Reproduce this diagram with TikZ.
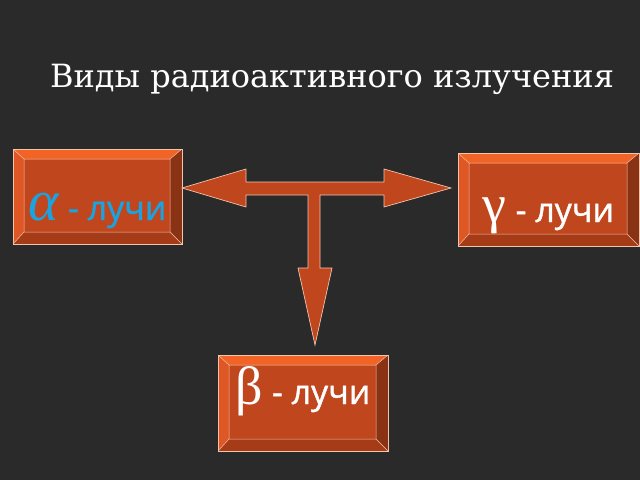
\documentclass[tikz,border=0pt]{standalone}
\usepackage{fontspec}
\setmainfont{DejaVu Serif}
\newfontfamily\labelfont[FakeBold=1.2]{Open Sans}
\newfontfamily\greekfont{Liberation Serif}
\definecolor{slate}{HTML}{2A2A2A}
\definecolor{face}{HTML}{C0461E}
\definecolor{bevtop}{HTML}{F26326}
\definecolor{bevleft}{HTML}{DE5724}
\definecolor{bevright}{HTML}{8A3214}
\definecolor{bevbottom}{HTML}{A53B17}
\definecolor{rim}{HTML}{F2C4AC}
\definecolor{rayblue}{HTML}{1BA3E0}
\begin{document}
\begin{tikzpicture}[x=1pt,y=-1pt,
		ray box/.style = {draw=rim, line width=0.6pt, fill=face, inner sep=0pt, outer sep=0pt,
			text=white, font=\labelfont\fontsize{34}{34}\selectfont, text height=#1, text depth=0pt,
			path picture={
				\fill[bevtop] (path picture bounding box.north west) -- (path picture bounding box.north east)
				-- ([shift={(-12,10)}]path picture bounding box.north east) -- ([shift={(11,10)}]path picture bounding box.north west) -- cycle;
				\fill[bevleft] (path picture bounding box.north west) -- ([shift={(11,10)}]path picture bounding box.north west)
				-- ([shift={(11,-12)}]path picture bounding box.south west) -- (path picture bounding box.south west) -- cycle;
				\fill[bevright] (path picture bounding box.north east) -- ([shift={(-12,10)}]path picture bounding box.north east)
				-- ([shift={(-12,-12)}]path picture bounding box.south east) -- (path picture bounding box.south east) -- cycle;
				\fill[bevbottom] (path picture bounding box.south west) -- ([shift={(11,-12)}]path picture bounding box.south west)
				-- ([shift={(-12,-12)}]path picture bounding box.south east) -- (path picture bounding box.south east) -- cycle;
				\draw[rim, line width=0.5pt] ([shift={(11,10)}]path picture bounding box.north west) rectangle ([shift={(-12,-12)}]path picture bounding box.south east)
				(path picture bounding box.north west) -- ([shift={(11,10)}]path picture bounding box.north west)
				(path picture bounding box.north east) -- ([shift={(-12,10)}]path picture bounding box.north east)
				(path picture bounding box.south west) -- ([shift={(11,-12)}]path picture bounding box.south west)
				(path picture bounding box.south east) -- ([shift={(-12,-12)}]path picture bounding box.south east);
			}},
		block arrow/.style = {fill=face, draw=rim, line width=0.7pt, line join=miter}]
		
		% background
		\fill[slate] (0,0) rectangle (640,480);
		\node[font=\fontsize{32}{32}\selectfont, text=white, anchor=base] (title) at (332,87) {Виды радиоактивного излучения};
		
		% the three kinds of rays
		\node[ray box=47pt, minimum width=169pt, minimum height=95pt] (alpha) at (97.5,196.5)
		{\textcolor{rayblue}{{\greekfont\itshape\fontsize{58}{58}\selectfont α} - лучи}};
		\node[ray box=45pt, minimum width=181pt, minimum height=93pt] (gamma) at (548.5,199.5)
		{{\greekfont\fontsize{54}{54}\selectfont γ} - лучи};
		\node[ray box=2pt, minimum width=170pt, minimum height=96pt] (beta) at (303,403)
		{{\greekfont\fontsize{54}{54}\selectfont β} - лучи};
		
		% T-shaped arrow
		\draw[block arrow] (182,188) -- (246,169) -- (246,182) -- (384,182) -- (384,169) -- (451,188)
		-- (384,207) -- (384,195) -- (320,195) -- (320,268) -- (332,268) -- (315,345)
		-- (298,268) -- (308,268) -- (308,195) -- (246,195) -- (246,207) -- cycle;
\end{tikzpicture}
\end{document}
